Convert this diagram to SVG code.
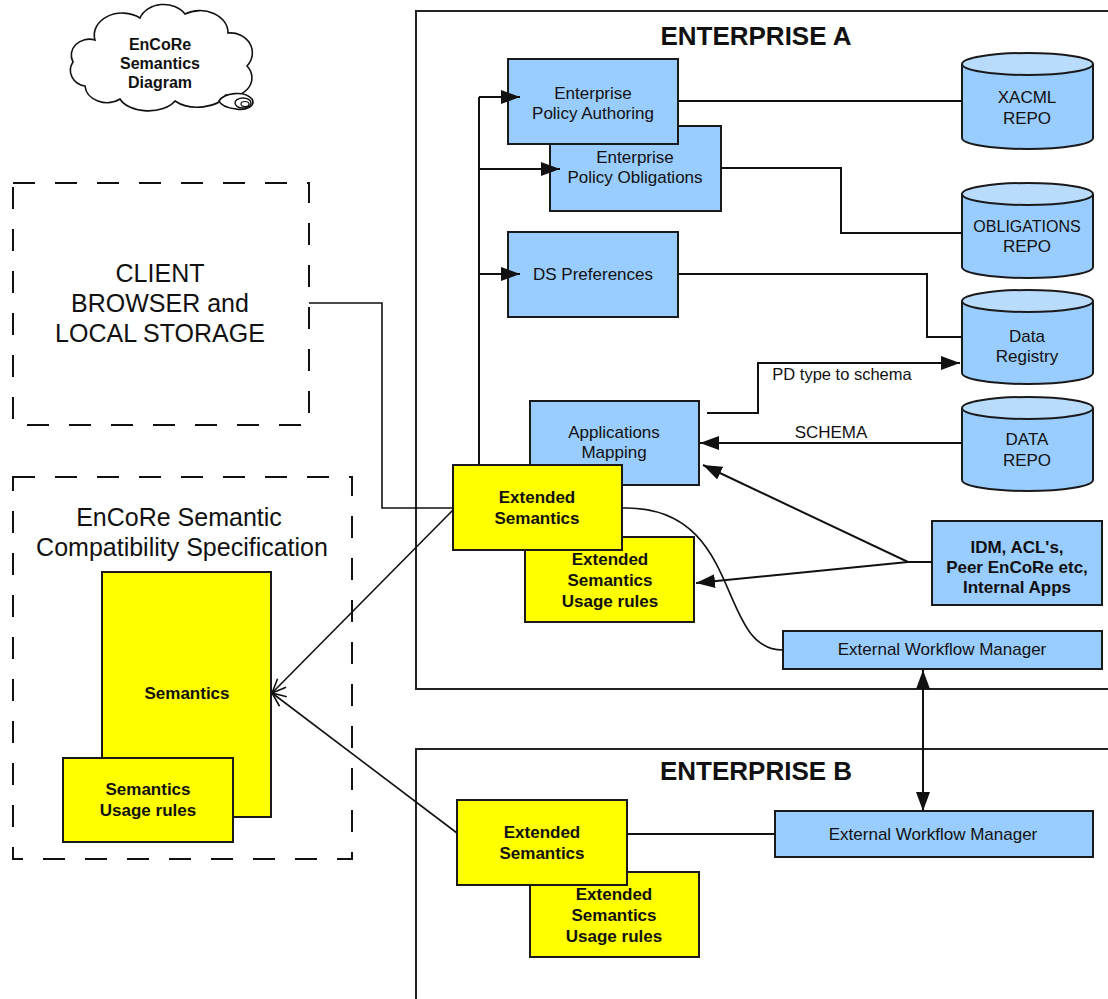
<svg xmlns="http://www.w3.org/2000/svg" width="1108" height="999" viewBox="0 0 1108 999">
  <style>
    text { font-family: "Liberation Sans", Arial, sans-serif; fill: #111; text-anchor: middle; }
    .t { font-size: 17px; }
    .b { font-size: 17px; font-weight: bold; }
    .big { font-size: 25px; }
    .title { font-size: 26px; font-weight: bold; }
    .blue { fill: #99ccff; stroke: #1a1a1a; stroke-width: 2; }
    .yellow { fill: #ffff00; stroke: #1a1a1a; stroke-width: 2; }
    .cyl { fill: #99ccff; stroke: #1a1a1a; stroke-width: 2; }
    .cyltop { fill: #b9dbfc; stroke: #1a1a1a; stroke-width: 2; }
    .dash { fill: none; stroke: #111; stroke-width: 2; stroke-dasharray: 22 20; }
    .frame { fill: none; stroke: #222; stroke-width: 2; }
    .c { fill: none; stroke: #111; stroke-width: 2; }
    .thin { fill: none; stroke: #111; stroke-width: 1.6; }
  </style>
  <defs>
    <marker id="arrow" markerUnits="userSpaceOnUse" markerWidth="20" markerHeight="14" refX="19" refY="7" orient="auto-start-reverse">
      <path d="M0,0 L19,7 L0,14 z" fill="#111"/>
    </marker>
    <marker id="open" markerUnits="userSpaceOnUse" markerWidth="16" markerHeight="14" refX="15" refY="7" orient="auto">
      <path d="M1,1 L15,7 L1,13" fill="none" stroke="#111" stroke-width="1.6"/>
    </marker>
  </defs>

  <rect width="1108" height="999" fill="#ffffff"/>

  <!-- thought-bubble title -->
  <g id="title-cloud">
    <path d="M95,40 A28,22 0 0 1 140,18 A25,20 0 0 1 185,14 A28,22 0 0 1 228,33 A22,20 0 0 1 247,66 A20,18 0 0 1 226,95 A30,18 0 0 1 175,101 A30,18 0 0 1 120,99 A22,18 0 0 1 85,86 A18,16 0 0 1 73,62 A18,16 0 0 1 95,40 Z" fill="#fff" stroke="#111" stroke-width="1.6"/>
    <path d="M219,101 C224,93 244,90 252,99 C256,106 246,111 236,109 C228,108 221,106 219,101 Z" fill="#fff" stroke="#111" stroke-width="1.6"/>
    <ellipse cx="243" cy="103" rx="8" ry="5" fill="none" stroke="#111" stroke-width="1.4"/>
    <ellipse cx="245" cy="104" rx="4" ry="2.5" fill="none" stroke="#111" stroke-width="1.2"/>
    <text class="b" style="font-size:16px" x="160" y="50">EnCoRe</text>
    <text class="b" style="font-size:16px" x="160" y="69">Semantics</text>
    <text class="b" style="font-size:16px" x="160" y="88">Diagram</text>
  </g>

  <!-- enterprise frames -->
  <g id="enterprise-a">
    <path class="frame" d="M1110,11 H416 V689 H1110"/>
    <text class="title" x="756" y="45">ENTERPRISE A</text>
  </g>
  <g id="enterprise-b">
    <path class="frame" d="M1110,749 H416 V1002"/>
    <text class="title" x="756" y="780">ENTERPRISE B</text>
  </g>

  <!-- client side -->
  <g id="client-browser">
    <rect class="dash" x="13" y="183" width="296" height="242"/>
    <text class="big" x="160" y="282">CLIENT</text>
    <text class="big" x="160" y="312">BROWSER and</text>
    <text class="big" x="160" y="342">LOCAL STORAGE</text>
  </g>

  <g id="compat-spec">
    <rect class="dash" x="13" y="477" width="339" height="382"/>
    <text class="big" x="179" y="526">EnCoRe Semantic</text>
    <text class="big" x="182" y="556">Compatibility Specification</text>
  </g>
  <g id="semantics">
    <rect class="yellow" x="102" y="572" width="169" height="245"/>
    <text class="b" x="187" y="699">Semantics</text>
  </g>
  <g id="semantics-usage">
    <rect class="yellow" x="63" y="758" width="170" height="84"/>
    <text class="b" x="148" y="795">Semantics</text>
    <text class="b" x="148" y="816">Usage rules</text>
  </g>

  <!-- enterprise A nodes -->
  <g id="policy-obligations">
    <rect class="blue" x="550" y="126" width="171" height="85"/>
    <text class="t" x="635" y="163">Enterprise</text>
    <text class="t" x="635" y="183">Policy Obligations</text>
  </g>
  <g id="policy-authoring">
    <rect class="blue" x="508" y="59" width="170" height="85"/>
    <text class="t" x="593" y="99">Enterprise</text>
    <text class="t" x="593" y="119">Policy Authoring</text>
  </g>
  <g id="ds-preferences">
    <rect class="blue" x="508" y="232" width="170" height="85"/>
    <text class="t" x="593" y="280">DS Preferences</text>
  </g>
  <g id="applications-mapping">
    <rect class="blue" x="530" y="401" width="169" height="84"/>
    <text class="t" x="614" y="438">Applications</text>
    <text class="t" x="614" y="458">Mapping</text>
  </g>
  <g id="ext-usage-a">
    <rect class="yellow" x="525" y="537" width="169" height="85"/>
    <text class="b" x="610" y="565">Extended</text>
    <text class="b" x="610" y="586">Semantics</text>
    <text class="b" x="610" y="607">Usage rules</text>
  </g>
  <g id="ext-semantics-a">
    <rect class="yellow" x="453" y="465" width="169" height="85"/>
    <text class="b" x="537" y="503">Extended</text>
    <text class="b" x="537" y="524">Semantics</text>
  </g>
  <g id="idm-sources">
    <rect class="blue" x="932" y="521" width="170" height="84"/>
    <text class="b" x="1017" y="553">IDM, ACL's,</text>
    <text class="b" x="1017" y="573">Peer EnCoRe etc,</text>
    <text class="b" x="1017" y="593">Internal Apps</text>
  </g>
  <g id="workflow-a">
    <rect class="blue" x="783" y="631" width="319" height="38"/>
    <text class="t" x="942" y="655">External Workflow Manager</text>
  </g>

  <!-- repositories -->
  <g id="xacml-repo">
    <path class="cyl" d="M962,64 V138 A65.5,11 0 0 0 1093,138 V64"/>
    <ellipse class="cyltop" cx="1027.5" cy="64" rx="65.5" ry="11"/>
    <text class="t" x="1027" y="103">XACML</text>
    <text class="t" x="1027" y="124">REPO</text>
  </g>
  <g id="obligations-repo">
    <path class="cyl" d="M962,194 V267 A65.5,11 0 0 0 1093,267 V194"/>
    <ellipse class="cyltop" cx="1027.5" cy="194" rx="65.5" ry="11"/>
    <text class="t" style="font-size:16px" x="1027" y="232">OBLIGATIONS</text>
    <text class="t" x="1027" y="252">REPO</text>
  </g>
  <g id="data-registry">
    <path class="cyl" d="M962,301 V373 A65.5,11 0 0 0 1093,373 V301"/>
    <ellipse class="cyltop" cx="1027.5" cy="301" rx="65.5" ry="11"/>
    <text class="t" x="1027" y="342">Data</text>
    <text class="t" x="1027" y="362">Registry</text>
  </g>
  <g id="data-repo">
    <path class="cyl" d="M962,408 V480 A65.5,11 0 0 0 1093,480 V408"/>
    <ellipse class="cyltop" cx="1027.5" cy="408" rx="65.5" ry="11"/>
    <text class="t" x="1027" y="445">DATA</text>
    <text class="t" x="1027" y="466">REPO</text>
  </g>

  <!-- enterprise B nodes -->
  <g id="ext-usage-b">
    <rect class="yellow" x="530" y="872" width="169" height="85"/>
    <text class="b" x="614" y="900">Extended</text>
    <text class="b" x="614" y="921">Semantics</text>
    <text class="b" x="614" y="942">Usage rules</text>
  </g>
  <g id="ext-semantics-b">
    <rect class="yellow" x="457" y="800" width="170" height="85"/>
    <text class="b" x="542" y="838">Extended</text>
    <text class="b" x="542" y="859">Semantics</text>
  </g>
  <g id="workflow-b">
    <rect class="blue" x="775" y="811" width="318" height="46"/>
    <text class="t" x="933" y="840">External Workflow Manager</text>
  </g>

  <!-- connectors -->
  <g id="connectors">
    <path class="thin" d="M309,303 H382 V508 H453"/>
    <path class="c" d="M479,465 V97"/>
    <path class="c" d="M479,97 H520" marker-end="url(#arrow)"/>
    <path class="c" d="M479,169 H560" marker-end="url(#arrow)"/>
    <path class="c" d="M479,274 H520" marker-end="url(#arrow)"/>
    <path class="c" d="M678,101 H962"/>
    <path class="c" d="M721,168 H841 V233 H962"/>
    <path class="c" d="M678,274 H927 V337 H962"/>
    <path class="c" d="M707,413 H758 V363 H960" marker-end="url(#arrow)"/>
    <text class="t" style="font-size:16.5px" x="842" y="380">PD type to schema</text>
    <path class="c" d="M962,443 H700" marker-end="url(#arrow)"/>
    <text class="t" x="831" y="438">SCHEMA</text>
    <path class="c" d="M932,562 H908 L703,465" marker-end="url(#arrow)"/>
    <path class="c" d="M908,562 L696,583" marker-end="url(#arrow)"/>
    <path class="thin" d="M622,508 C745,505 715,650 783,650"/>
    <path class="c" d="M923,670 V811" marker-start="url(#arrow)" marker-end="url(#arrow)"/>
    <path class="c" d="M627,834 H775"/>
    <path class="thin" d="M453,510 L272,693" marker-end="url(#open)"/>
    <path class="thin" d="M457,833 L272,693" marker-end="url(#open)"/>
  </g>
</svg>
